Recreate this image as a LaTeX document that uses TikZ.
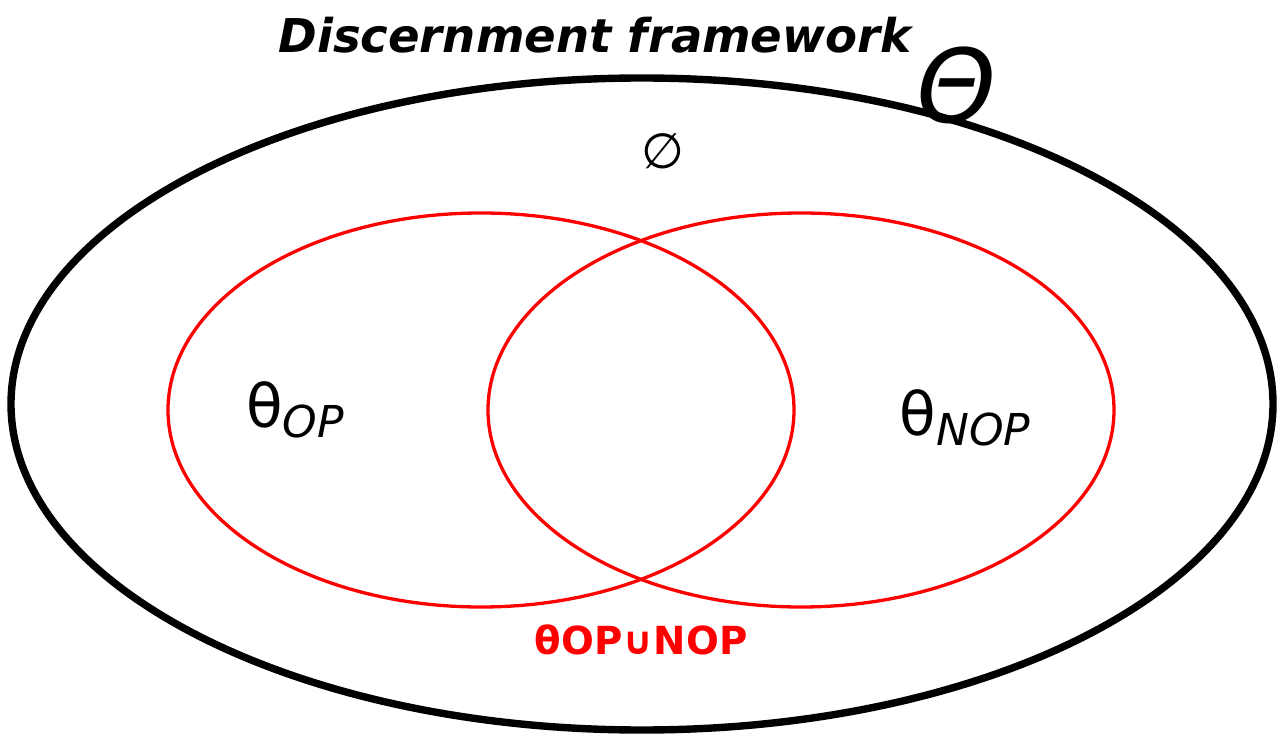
\documentclass[tikz,border=0pt]{standalone}
\usepackage{fontspec}
\setmainfont{DejaVu Sans}
\begin{document}
\begin{tikzpicture}

	\useasboundingbox (0,0) rectangle (25.68,15);
	\draw[line width=8pt/1.9] (12.84, 6.92) ellipse [x radius=12.62, y radius=6.52];
	\draw[red, line width=3pt/1.6] (9.62, 6.80) ellipse [x radius=6.26, y radius=3.94];
	\draw[red, line width=3pt/1.6] (16.02, 6.80) ellipse [x radius=6.26, y radius=3.94];

	\node (title) at (11.9, 14.3) {\fontsize{26.5}{30}\selectfont\bfseries\itshape Discernment framework};
	\node (frame) at (19.14, 13.3) {\fontsize{58}{64}\selectfont\itshape Θ};
	\node (empty) at (13.26, 11.98) {\fontsize{28}{32}\selectfont\itshape ∅};
	\node (op) at (5.9, 6.8) {\fontsize{34}{38}\selectfont θ\raisebox{-0.3ex}{\itshape\fontsize{25}{28}\selectfont OP}};
	\node (nop) at (19.3, 6.64) {\fontsize{34}{38}\selectfont θ\raisebox{-0.3ex}{\itshape\fontsize{25}{28}\selectfont NOP}};
	\node[red] (union) at (12.82, 2.2) {\fontsize{22}{26}\selectfont\bfseries θOP∪NOP};

\end{tikzpicture}
\end{document}
